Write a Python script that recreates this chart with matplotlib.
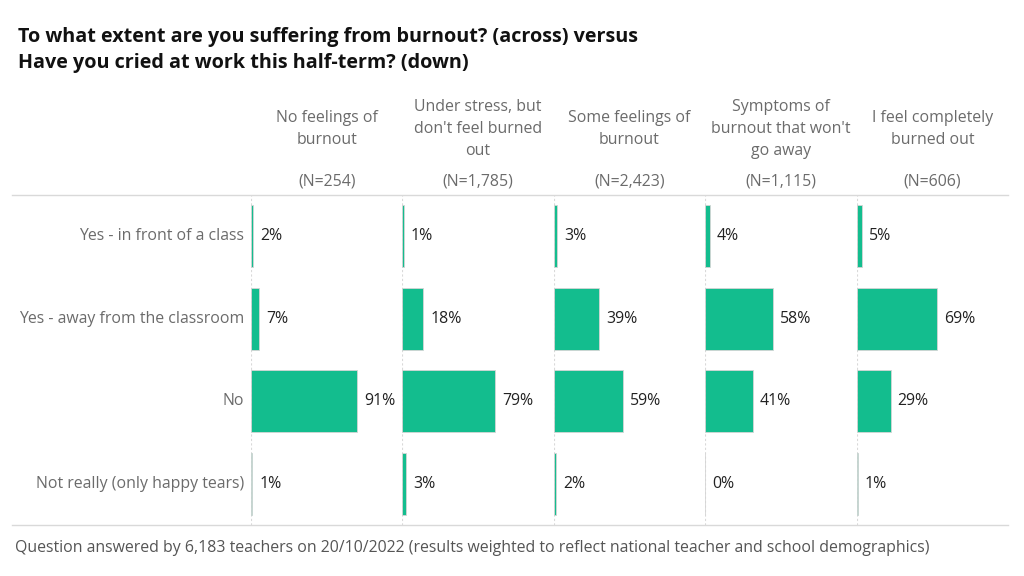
import numpy as np
import matplotlib.pyplot as plt

plt.rcParams['font.family'] = ['Open Sans', 'DejaVu Sans']

# data
columns = ["No feelings of\nburnout",
           "Under stress, but\ndon't feel burned\nout",
           "Some feelings of\nburnout",
           "Symptoms of\nburnout that won't\ngo away",
           "I feel completely\nburned out"]
col_n = ["(N=254)", "(N=1,785)", "(N=2,423)", "(N=1,115)", "(N=606)"]
rows = ["Yes - in front of a class",
        "Yes - away from the classroom",
        "No",
        "Not really (only happy tears)"]
# values per column, one entry per row
no_feelings = [2, 7, 91, 1]
under_stress = [1, 18, 79, 3]
some_feelings = [3, 39, 59, 2]
symptoms = [4, 58, 41, 0]
completely = [5, 69, 29, 1]
values = [no_feelings, under_stress, some_feelings, symptoms, completely]

W, H = 1024, 576
fig = plt.figure(figsize=(W / 100, H / 100), dpi=100)

bar_color = '#13bd8e'
text_gray = '#6b6b6b'
line_gray = '#d9d9d9'
fs = 11.4

top_px, bot_px = 195, 525
left0, step = 251, 151.4
px_per_pct = 1.17

def fx(px):
    return px / W

def fy(py):
    return 1 - py / H

# background axes for lines and free text
bg = fig.add_axes([0, 0, 1, 1])
bg.set_xlim(0, W)
bg.set_ylim(H, 0)
bg.axis('off')

bg.text(18, 50, "To what extent are you suffering from burnout? (across) versus\nHave you cried at work this half-term? (down)",
        fontsize=14.2, fontweight='bold', color='#111111', va='center', ha='left', linespacing=1.45)

bg.plot([12, 1008], [top_px, top_px], color=line_gray, lw=1)
bg.plot([12, 1008], [bot_px, bot_px], color=line_gray, lw=1)

bg.text(15, 548, "Question answered by 6,183 teachers on 20/10/2022 (results weighted to reflect national teacher and school demographics)",
        fontsize=fs, color='#555555', va='center', ha='left')

for i, (name, n, vals) in enumerate(zip(columns, col_n, values)):
    left = left0 + step * i
    cx = left + step / 2
    bg.text(cx, 129, name, fontsize=fs, color=text_gray, ha='center', va='center', linespacing=1.5)
    bg.text(cx, 182, n, fontsize=fs, color=text_gray, ha='center', va='center')

    ax = fig.add_axes([fx(left), fy(bot_px), step / W, (bot_px - top_px) / H])
    ax.set_xlim(0, step / px_per_pct)
    ax.set_ylim(len(rows) - 0.5, -0.5)
    ax.axis('off')
    ax.axvline(0, color=line_gray, lw=0.8, ls=(0, (2, 2)), zorder=0)
    y = np.arange(len(rows))
    ax.barh(y, vals, height=0.75, color=bar_color, edgecolor='#d5d5d5', linewidth=0.6, zorder=2)
    for yy, v in zip(y, vals):
        ax.annotate(f"{v}%", (v, yy), xytext=(5, 0), textcoords='offset points',
                    fontsize=fs, color='#222222', va='center', ha='left')

    if i == 0:
        for yy, r in zip(y, rows):
            ax.annotate(r, (0, yy), xytext=(-5, 0), textcoords='offset points',
                        fontsize=fs, color=text_gray, va='center', ha='right',
                        annotation_clip=False)

fig.savefig('out.png', dpi=100)
